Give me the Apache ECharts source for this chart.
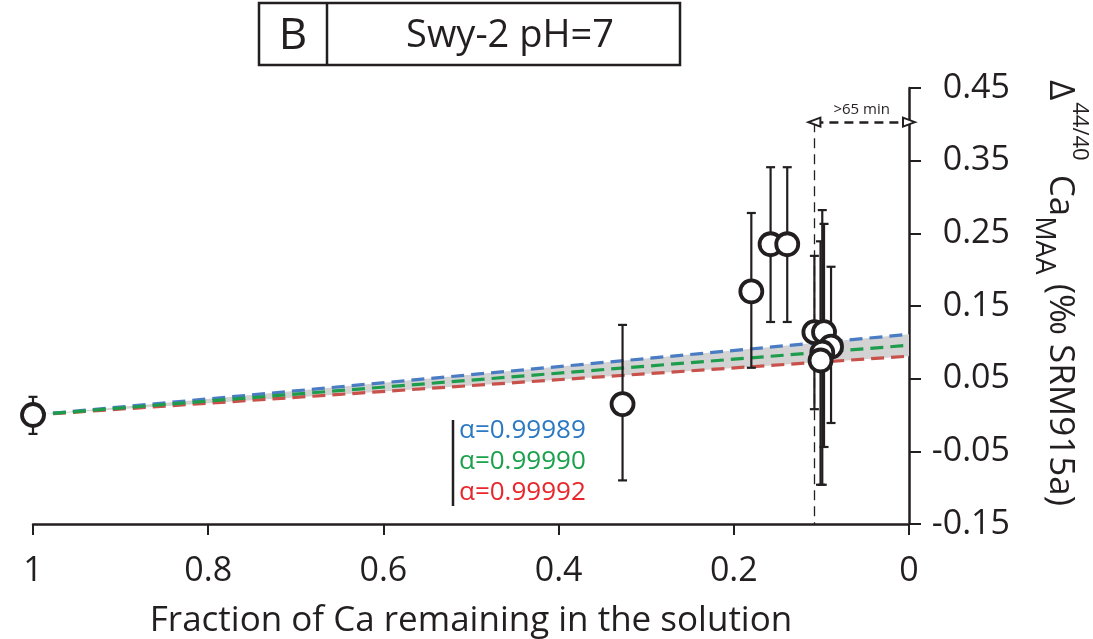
<!DOCTYPE html>
<html><head><meta charset="utf-8">
<script src="https://cdn.jsdelivr.net/npm/echarts@6/dist/echarts.min.js"></script>
<style>html,body{margin:0;padding:0;background:#fff}#c{width:1093px;height:639px}</style>
</head><body><div id="c"></div>
<script>
// Data points: fraction of Ca remaining (x) vs Δ44/40Ca (y)
const pointX  = [1.000, 0.327, 0.180, 0.158, 0.139, 0.108, 0.097, 0.089, 0.099, 0.101];
const pointY  = [0.000, 0.015, 0.170, 0.235, 0.235, 0.114, 0.114, 0.094, 0.086, 0.075];
const errLow  = [-0.026, -0.090, 0.065, 0.128, 0.128, 0.008, -0.044, -0.011, -0.096, -0.096];
const errHigh = [0.025, 0.124, 0.278, 0.341, 0.341, 0.219, 0.263, 0.204, 0.282, 0.239];

// Model lines (endpoints)
const lineX     = [1, 0];
const blueLine  = [0, 0.111];
const greenLine = [0, 0.096];
const redLine   = [0, 0.081];
const alphaLabels = ['α=0.99989', 'α=0.99990', 'α=0.99992'];

// Annotation
const cutX = 0.108;
const arrowY = 0.403;
const arrowText = '>65 min';

const panelLetter = 'B';
const panelTitle = 'Swy-2 pH=7';
const xName = 'Fraction of Ca remaining in the solution';

const FONT = '"Open Sans", "Noto Sans", sans-serif';
const INK = '#231f20';
const C_BLUE = '#4a7cc3', C_GREEN = '#1d9d4b', C_RED = '#c9514b';
const T_BLUE = '#2b79c2', T_GREEN = '#1aa14c', T_RED = '#e8262b';

const chart = echarts.init(document.getElementById('c'), null, {renderer: 'canvas'});

function pairs(xs, ys) { return xs.map((x, i) => [x, ys[i]]); }

const option = {
  backgroundColor: '#fff',
  animation: false,
  textStyle: {fontFamily: FONT},
  grid: {left: 33, right: 184, top: 88, bottom: 115, containLabel: false, outerBoundsMode: 'none'},
  xAxis: {
    type: 'value', min: 0, max: 1, interval: 0.2, inverse: true,
    axisLine: {show: true, onZero: false, lineStyle: {color: INK, width: 2.5}},
    axisTick: {show: true, inside: false, length: 11, lineStyle: {color: INK, width: 2}},
    axisLabel: {fontSize: 34, color: INK, margin: 30, fontFamily: FONT},
    splitLine: {show: false},
    name: xName, nameLocation: 'middle', nameGap: 80,
    nameTextStyle: {fontSize: 35, color: INK, fontFamily: FONT}
  },
  yAxis: {
    type: 'value', position: 'right', min: -0.15, max: 0.45, interval: 0.1,
    axisLine: {show: true, onZero: false, lineStyle: {color: INK, width: 2.5}},
    axisTick: {show: true, inside: false, length: 12, lineStyle: {color: INK, width: 2}},
    axisLabel: {fontSize: 34, color: INK, margin: 101, align: 'right', fontFamily: FONT,
      formatter: v => v.toFixed(2)},
    splitLine: {show: false}
  },
  series: [
    {
      type: 'custom', z: 1, silent: true,
      data: [[lineX[0], blueLine[0]]],
      renderItem(params, api) {
        const pts = [];
        for (let i = 0; i < lineX.length; i++) pts.push(api.coord([lineX[i], blueLine[i]]));
        for (let i = lineX.length - 1; i >= 0; i--) pts.push(api.coord([lineX[i], redLine[i]]));
        return {type: 'polygon', shape: {points: pts}, style: {fill: '#d3d3d3'}};
      }
    },
    {type: 'line', z: 2, data: pairs(lineX, redLine), symbol: 'none', silent: true,
      lineStyle: {color: C_RED, width: 3.2, type: [13, 7]}},
    {type: 'line', z: 2, data: pairs(lineX, blueLine), symbol: 'none', silent: true,
      lineStyle: {color: C_BLUE, width: 3.2, type: [13, 7]}},
    {type: 'line', z: 2, data: pairs(lineX, greenLine), symbol: 'none', silent: true,
      lineStyle: {color: C_GREEN, width: 3.2, type: [13, 7]}},
    {
      type: 'line', data: [], z: 3, silent: true,
      markLine: {
        silent: true, symbol: 'none', animation: false,
        lineStyle: {color: INK, width: 1.3, type: [10, 6]},
        label: {show: false},
        data: [[{coord: [cutX, arrowY]}, {coord: [cutX, -0.15]}]]
      }
    },
    {
      type: 'line', data: [], z: 3, silent: true,
      markLine: {
        silent: true, animation: false,
        symbol: ['emptyTriangle', 'emptyTriangle'], symbolSize: [9, 12],
        lineStyle: {color: INK, width: 2.5, type: [9, 6]},
        label: {show: true, position: 'middle', formatter: arrowText, fontSize: 15,
          color: INK, distance: 5, fontFamily: FONT},
        data: [[{coord: [cutX, arrowY]}, {coord: [0, arrowY]}]]
      }
    },
    {
      type: 'custom', z: 4, silent: true,
      data: pointX.map((x, i) => [x, errLow[i], errHigh[i]]),
      encode: {x: 0, y: [1, 2]},
      renderItem(params, api) {
        const lo = api.coord([api.value(0), api.value(1)]);
        const hi = api.coord([api.value(0), api.value(2)]);
        const w = 4.5;
        const st = {stroke: INK, lineWidth: 2.2, fill: null};
        return {type: 'group', children: [
          {type: 'line', shape: {x1: lo[0], y1: lo[1], x2: hi[0], y2: hi[1]}, style: st},
          {type: 'line', shape: {x1: lo[0] - w, y1: lo[1], x2: lo[0] + w, y2: lo[1]}, style: st},
          {type: 'line', shape: {x1: hi[0] - w, y1: hi[1], x2: hi[0] + w, y2: hi[1]}, style: st}
        ]};
      }
    },
    {
      type: 'scatter', z: 5, silent: true,
      data: pairs(pointX, pointY),
      symbol: 'circle', symbolSize: 22,
      itemStyle: {color: '#fff', borderColor: INK, borderWidth: 3.8, opacity: 1}
    }
  ],
  graphic: [
    {type: 'rect', shape: {x: 259, y: 3, width: 421, height: 62},
      style: {fill: '#fff', stroke: INK, lineWidth: 2.5}, z: 10},
    {type: 'line', shape: {x1: 327, y1: 3, x2: 327, y2: 65},
      style: {stroke: INK, lineWidth: 2.5}, z: 11},
    {type: 'text', x: 293, y: 36, z: 11,
      style: {text: panelLetter, font: '44px ' + FONT, fill: INK, align: 'center', verticalAlign: 'middle'}},
    {type: 'text', x: 510, y: 36, z: 11,
      style: {text: panelTitle, font: '38px ' + FONT, fill: INK, align: 'center', verticalAlign: 'middle'}},
    {type: 'line', shape: {x1: 453, y1: 420, x2: 453, y2: 506},
      style: {stroke: INK, lineWidth: 2.5}, z: 11},
    {type: 'text', x: 459, y: 431, z: 11,
      style: {text: alphaLabels[0], font: '26px ' + FONT, fill: T_BLUE, align: 'left', verticalAlign: 'middle'}},
    {type: 'text', x: 459, y: 462, z: 11,
      style: {text: alphaLabels[1], font: '26px ' + FONT, fill: T_GREEN, align: 'left', verticalAlign: 'middle'}},
    {type: 'text', x: 459, y: 493, z: 11,
      style: {text: alphaLabels[2], font: '26px ' + FONT, fill: T_RED, align: 'left', verticalAlign: 'middle'}},
    {type: 'text', x: 1060, y: 80, rotation: -Math.PI / 2, z: 11,
      style: {
        text: '{m|Δ}{sup|44/40}{m|Ca}{sub|MAA}{m| (‰ SRM915a)}',
        align: 'left', verticalAlign: 'middle', fill: INK,
        rich: {
          m: {fontSize: 35, lineHeight: 60, verticalAlign: 'middle', fontFamily: FONT, fill: INK},
          sup: {fontSize: 22, lineHeight: 22, verticalAlign: 'top', fontFamily: FONT, fill: INK, padding: [0, 14, 0, 2]},
          sub: {fontSize: 27, lineHeight: 38, verticalAlign: 'bottom', fontFamily: FONT, fill: INK}
        }
      }}
  ]
};
chart.setOption(option);
</script>
</body></html>
